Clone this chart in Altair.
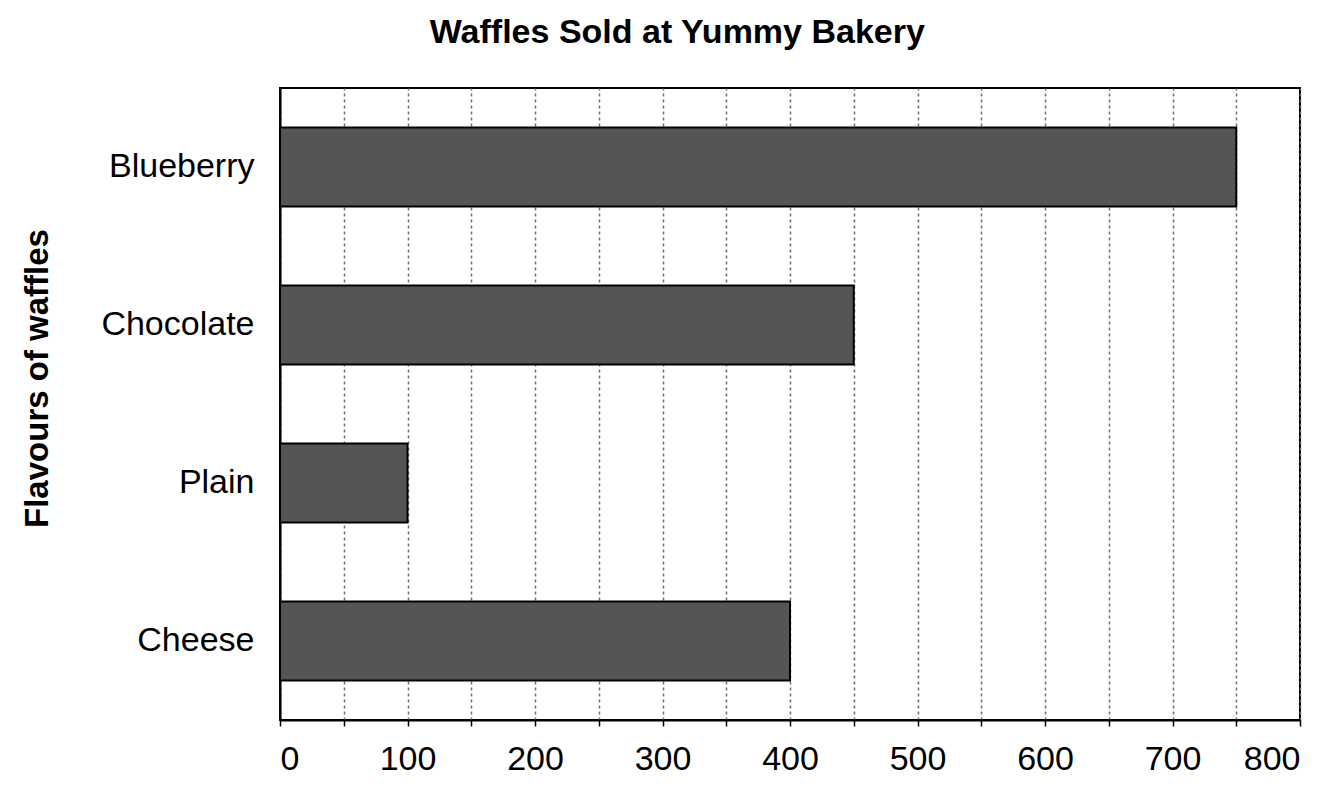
import altair as alt
import pandas as pd

flavours = ["Blueberry", "Chocolate", "Plain", "Cheese"]
sold = [750, 450, 100, 400]
x_ticks = list(range(0, 801, 50))

df = pd.DataFrame({"Flavour": flavours, "Sold": sold})

FONT = "Liberation Sans"

chart = (
    alt.Chart(df)
    .mark_bar(color="#555555", stroke="black", strokeWidth=2)
    .encode(
        x=alt.X(
            "Sold:Q",
            scale=alt.Scale(domain=[0, 800], nice=False),
            axis=alt.Axis(
                values=x_ticks,
                labelExpr="datum.value % 100 == 0 ? datum.label : ''",
                title=None,
                grid=True,
                gridDash=[3, 3],
                gridColor="#707070",
                gridWidth=1.5,
                domainColor="black",
                domainWidth=2,
                tickColor="black",
                tickSize=6,
                tickWidth=1.5,
                labelFontSize=34,
                labelFont=FONT,
                labelColor="black",
                labelPadding=16,
                labelOverlap=False,
            ),
        ),
        y=alt.Y(
            "Flavour:N",
            sort=flavours,
            scale=alt.Scale(paddingInner=0.5, paddingOuter=0.25),
            axis=alt.Axis(
                title="Flavours of waffles",
                titleFont=FONT,
                titleFontSize=33,
                titleFontWeight="bold",
                titleColor="black",
                titlePadding=46,
                titleY=290,
                ticks=False,
                labelPadding=26,
                labelFont=FONT,
                labelFontSize=34,
                labelColor="black",
                domainColor="black",
                domainWidth=2,
            ),
        ),
    )
    .properties(
        width=1020,
        height=632,
        title=alt.TitleParams(
            "Waffles Sold at Yummy Bakery",
            font=FONT,
            fontSize=34,
            fontWeight="bold",
            color="black",
            anchor="middle",
            frame="bounds",
            offset=38,
            dx=16,
        ),
        autosize=alt.AutoSizeParams(type="none"),
        padding={"left": 272, "top": 80, "right": 33, "bottom": 70},
    )
    .configure_view(stroke="black", strokeWidth=2)
)

chart.save("out.html", embed_options={"renderer": "svg", "actions": False})
